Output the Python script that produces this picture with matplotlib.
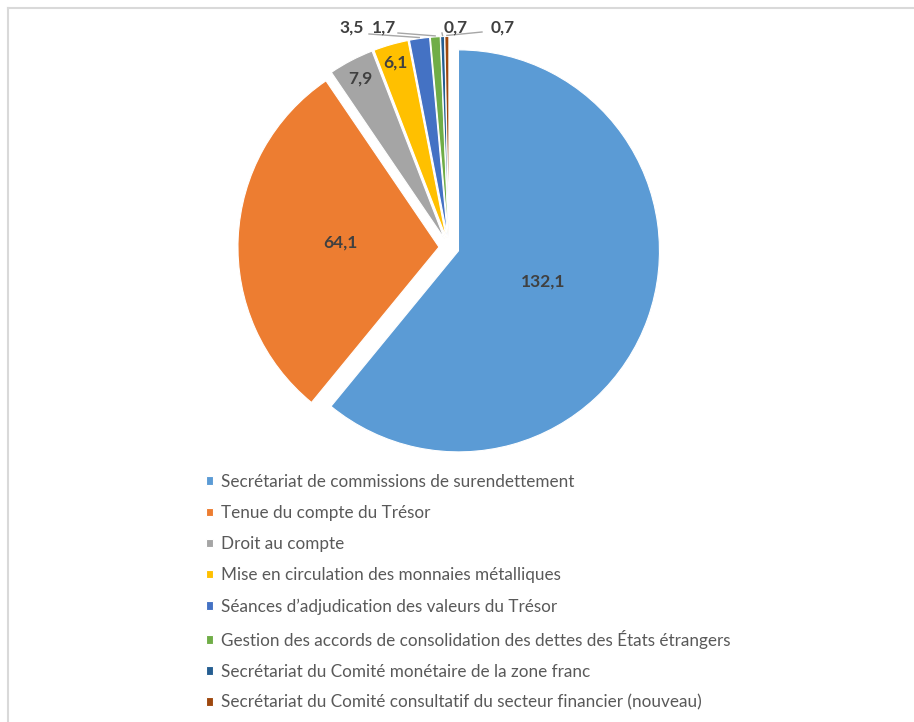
import numpy as np
import matplotlib
matplotlib.use("Agg")
import matplotlib.pyplot as plt
from matplotlib.lines import Line2D

categories = [
    "Secrétariat de commissions de surendettement",
    "Tenue du compte du Trésor",
    "Droit au compte",
    "Mise en circulation des monnaies métalliques",
    "Séances d’adjudication des valeurs du Trésor",
    "Gestion des accords de consolidation des dettes des États étrangers",
    "Secrétariat du Comité monétaire de la zone franc",
    "Secrétariat du Comité consultatif du secteur financier (nouveau)",
]
values = [132.1, 64.1, 7.9, 6.1, 3.5, 1.7, 0.7, 0.7]
value_labels = ["132,1", "64,1", "7,9", "6,1", "3,5", "1,7", "0,7", "0,7"]
colors = ["#5B9BD5", "#ED7D31", "#A5A5A5", "#FFC000", "#4472C4", "#70AD47", "#255E91", "#9E480E"]

plt.rcParams["font.family"] = ["Lato", "DejaVu Sans"]

W, H = 914, 722
R = 201.0             # pie radius in pixels
cx, cy = 449, 247.5   # pie centre in image pixels

fig = plt.figure(figsize=(W / 100, H / 100), dpi=100)
ax = fig.add_axes([0, 0, 1, 1])

wedges, _ = ax.pie(values, colors=colors, startangle=90, counterclock=False,
                   explode=[0.05] * len(values), radius=1,
                   wedgeprops=dict(edgecolor="white", linewidth=0.8))

ax.set_xlim(-cx / R, (W - cx) / R)
ax.set_ylim(-(H - cy) / R, cy / R)
ax.set_aspect("equal")
ax.axis("off")

lab_kw = dict(fontsize=12.5, fontweight="bold", color="#404040", ha="center", va="center")

# labels inside the wedges (distance from wedge centre, fraction of radius)
inside = {0: 0.45, 1: 0.49, 2: 0.90, 3: 0.91}
for i, d in inside.items():
    w = wedges[i]
    mid = np.deg2rad((w.theta1 + w.theta2) / 2)
    x = w.center[0] + d * np.cos(mid)
    y = w.center[1] + d * np.sin(mid)
    ax.text(x, y, value_labels[i], **lab_kw)

# small slices: labels above the pie with grey leader lines
def px2data(x, y):
    return (x - cx) / R, (cy - y) / R

outside = {4: ((352, 28), (369, 34)),
           5: ((384, 28), (398, 33)),
           6: ((456, 28), (442, 33)),
           7: ((503, 28), (482, 32))}
for i, (txt, end) in outside.items():
    w = wedges[i]
    mid = np.deg2rad((w.theta1 + w.theta2) / 2)
    px = w.center[0] + 1.005 * np.cos(mid)
    py = w.center[1] + 1.005 * np.sin(mid)
    ex, ey = px2data(*end)
    ax.plot([px, ex], [py, ey], color="#A6A6A6", lw=1.0)
    tx, ty = px2data(*txt)
    ax.text(tx, ty, value_labels[i], **lab_kw)

leg = fig.legend(wedges, categories, loc="upper left",
                 bbox_to_anchor=(206 / W, 1 - 474 / H), frameon=False,
                 fontsize=12.3, labelcolor="#595959", handlelength=0.42,
                 handleheight=0.42, handletextpad=0.45, labelspacing=0.88,
                 borderpad=0, borderaxespad=0)

# chart-area border (top and left edges visible)
border = dict(color="#D9D9D9", lw=1.5, transform=fig.transFigure)
fig.add_artist(Line2D([8 / W, 1], [1 - 8 / H, 1 - 8 / H], **border))
fig.add_artist(Line2D([8 / W, 8 / W], [1 - 8 / H, 0], **border))

fig.savefig("out.png", dpi=100)
